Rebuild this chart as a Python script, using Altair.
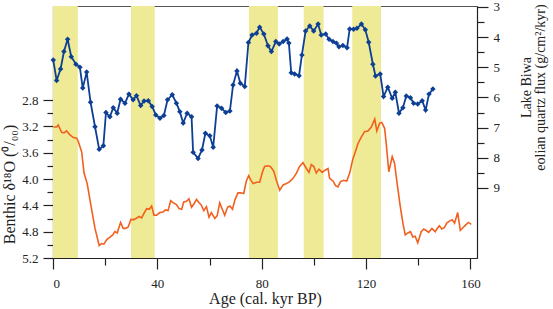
import altair as alt
import pandas as pd

# --- data -----------------------------------------------------------------
band_start = [0.0, 29.9, 75.1, 96.1, 114.7]
band_end = [9.5, 39.0, 86.2, 103.7, 125.7]

benthic_age = [0.1, 1.4, 2.0, 3.3, 4.2, 5.2, 6.5, 7.8, 9.1, 9.7, 11.0, 11.9, 13.1, 14.4,
               16.1, 17.7, 18.6, 19.5, 20.6, 21.6, 22.9, 23.7, 24.6, 25.9, 26.9, 27.9,
               28.8, 29.9, 30.7, 31.8, 33.0, 34.0, 34.9, 35.9, 36.9, 37.8, 38.7, 39.7,
               41.0, 42.2, 43.1, 44.1, 45.1, 46.0, 47.3, 48.3, 49.3, 50.1, 51.2, 52.1,
               53.1, 54.0, 55.0, 56.0, 56.9, 57.8, 58.8, 59.8, 60.7, 62.0, 62.9, 63.9,
               65.0, 65.8, 66.9, 67.8, 68.8, 69.7, 70.9, 71.8, 73.1, 74.1, 75.0, 75.7,
               76.7, 78.0, 79.2, 80.3, 81.1, 82.2, 83.3, 84.6, 85.6, 86.9, 88.2, 89.5,
               90.7, 92.0, 93.3, 94.5, 95.8, 97.1, 98.1, 99.0, 100.0, 100.9, 101.9, 103.2,
               104.1, 105.4, 106.0, 107.3, 108.3, 109.2, 110.2, 111.4, 112.6, 113.7, 114.9,
               116.0, 116.9, 118.2, 119.4, 120.7, 122.0, 123.3, 124.1, 125.2, 126.0, 127.1,
               127.7, 128.7, 130.0, 130.9, 131.9, 133.1, 134.1, 135.0, 136.0, 137.0, 137.9,
               138.8, 139.8, 141.1, 142.1, 143.3, 144.0, 145.2, 146.5, 147.1, 148.1, 149.0,
               150.0, 150.9, 151.9, 153.0, 153.9, 155.1, 156.1, 157.1, 158.1, 159.2, 160.3]
benthic_d18o = [3.21, 3.21, 3.18, 3.29, 3.30, 3.27, 3.33, 3.37, 3.38, 3.43, 3.59, 3.91, 4.07, 4.37,
                4.75, 5.01, 4.98, 4.99, 4.92, 4.89, 4.85, 4.80, 4.82, 4.66, 4.75, 4.75,
                4.73, 4.61, 4.62, 4.60, 4.57, 4.59, 4.52, 4.45, 4.46, 4.41, 4.55, 4.55,
                4.51, 4.50, 4.47, 4.48, 4.33, 4.36, 4.39, 4.45, 4.46, 4.35, 4.34, 4.30,
                4.43, 4.38, 4.31, 4.36, 4.40, 4.48, 4.42, 4.58, 4.51, 4.60, 4.56, 4.36,
                4.47, 4.55, 4.43, 4.41, 4.46, 4.32, 4.21, 4.21, 4.22, 4.03, 3.95, 4.01,
                4.07, 4.05, 4.05, 3.89, 3.81, 3.80, 3.81, 3.88, 4.02, 4.17, 4.09, 4.07,
                4.04, 3.99, 3.91, 3.81, 3.75, 3.84, 3.90, 3.78, 3.81, 3.91, 3.85, 3.90,
                3.87, 3.84, 3.99, 4.03, 4.10, 4.12, 4.04, 4.02, 4.03, 3.91, 3.70,
                3.57, 3.46, 3.36, 3.28, 3.27, 3.21, 3.09, 3.27, 3.15, 3.14, 3.23,
                3.46, 3.89, 3.66, 3.76, 4.07, 4.42, 4.67, 4.85, 4.82, 4.80, 4.88,
                4.87, 4.97, 4.80, 4.76, 4.79, 4.81, 4.75, 4.80, 4.76, 4.71, 4.76,
                4.74, 4.67, 4.64, 4.62, 4.67, 4.51, 4.78, 4.74, 4.70, 4.66, 4.69]

biwa_age = [0.1, 1.4, 2.9, 4.2, 5.6, 7.0, 8.8, 10.3, 11.4, 12.9, 14.4, 16.1, 17.7, 19.3,
            20.3, 21.8, 23.1, 24.6, 25.9, 27.6, 29.1, 30.7, 32.0, 33.6, 34.9, 36.5,
            38.0, 39.4, 41.0, 42.5, 43.9, 45.7, 47.3, 48.6, 49.9, 51.4, 53.1, 53.7,
            55.6, 57.1, 58.4, 60.1, 61.4, 62.9, 64.6, 66.2, 67.8, 69.0, 70.5, 71.8,
            73.5, 74.9, 76.3, 78.0, 79.2, 80.8, 82.4, 83.7, 85.4, 86.7, 88.2, 89.7,
            90.4, 91.3, 92.6, 94.3, 95.4, 96.8, 98.4, 99.9, 101.6, 102.8, 104.5, 105.8,
            107.3, 108.6, 109.6, 111.1, 112.7, 113.7, 115.2, 116.5, 118.2, 119.7, 121.0,
            122.6, 123.6, 125.4, 126.7, 128.3, 130.0, 131.2, 132.6, 134.1, 135.4, 137.0,
            138.2, 139.8, 141.5, 142.8, 144.1, 145.6]
biwa_flux = [4.76, 5.44, 5.06, 4.48, 4.07, 4.65, 4.90, 5.00, 5.69, 5.16, 6.16, 6.97, 7.72, 7.60,
             6.50, 6.64, 6.34, 6.52, 6.06, 6.19, 5.89, 6.08, 5.94, 6.27, 6.12, 6.11,
             6.30, 6.58, 6.69, 6.60, 6.08, 5.91, 6.19, 6.47, 6.85, 6.52, 6.64, 7.82,
             8.02, 7.74, 7.19, 7.27, 7.65, 6.28, 6.36, 6.50, 6.45, 5.59, 5.12, 5.53,
             5.64, 4.18, 3.93, 3.87, 3.67, 3.90, 4.29, 4.48, 4.15, 4.23, 4.15, 4.06,
             4.20, 5.18, 5.22, 5.28, 4.59, 3.80, 3.63, 3.80, 3.57, 3.93, 3.90, 4.07,
             4.15, 4.20, 4.32, 4.28, 4.35, 3.73, 3.74, 3.71, 3.57, 3.76, 4.17,
             4.90, 5.29, 5.22, 5.97, 5.66, 6.03, 5.83, 6.52, 6.34, 5.95, 6.01,
             6.19, 6.22, 6.11, 6.42, 5.89, 5.72]

x_ticks = [0, 20, 40, 60, 80, 100, 120, 140, 160]
left_ticks = [2.8, 3.0, 3.2, 3.4, 3.6, 3.8, 4.0, 4.2, 4.4, 4.6, 4.8, 5.0, 5.2]
right_ticks = [3, 3.5, 4, 4.5, 5, 5.5, 6, 6.5, 7, 7.5, 8, 8.5, 9]

# --- styling ----------------------------------------------------------------
YELLOW = "#EEEA96"
ORANGE = "#F2601F"
BLUE = "#0D3F94"
FONT = "Liberation Serif"
AXC = "#222222"

bands_df = pd.DataFrame({"start": band_start, "end": band_end})
benthic_df = pd.DataFrame({"age": benthic_age, "d18o": benthic_d18o})
biwa_df = pd.DataFrame({"age": biwa_age, "flux": biwa_flux})

x_scale = alt.Scale(domain=[0, 162.5], nice=False, zero=False)
x_axis = alt.Axis(
    values=x_ticks,
    labelExpr="datum.value % 40 == 0 ? datum.label : ''",
    tickSize={"condition": {"test": "datum.value % 40 != 0", "value": 7}, "value": 11},
    title="Age (cal. kyr BP)",
    titleFontSize=16,
    titlePadding=0,
    labelPadding=8,
    grid=False,
)

def xenc(field):
    return alt.X(f"{field}:Q", scale=x_scale, axis=x_axis)

bands = alt.Chart(bands_df).mark_rect(color=YELLOW, opacity=1).encode(
    x=xenc("start"), x2="end:Q"
)

orange = alt.Chart(benthic_df).mark_line(color=ORANGE, strokeWidth=1.6).encode(
    x=xenc("age"),
    y=alt.Y(
        "d18o:Q",
        scale=alt.Scale(domain=[1.372, 5.2], reverse=True, nice=False, zero=False),
        axis=alt.Axis(
            orient="left",
            values=left_ticks,
            labelExpr="round(datum.value*10) % 4 == 0 ? format(datum.value, '.1f') : ''",
            tickSize={"condition": {"test": "round(datum.value*10) % 4 != 0", "value": 6}, "value": 10},
            labelPadding=5,
            grid=False,
            title="Benthic δ¹⁸O (⁰/₀₀)",
            titleFontSize=16,
            titleAngle=270,
            titleAlign="center",
            titleBaseline="middle",
            titleX=-44,
            titleY=178,
        ),
    ),
)

blue = alt.Chart(biwa_df).mark_line(
    color=BLUE,
    strokeWidth=1.8,
    point=alt.OverlayMarkDef(shape="diamond", filled=True, size=30, color=BLUE),
).encode(
    x=xenc("age"),
    y=alt.Y(
        "flux:Q",
        scale=alt.Scale(domain=[2.97, 11.32], reverse=True, nice=False, zero=False),
        axis=alt.Axis(
            orient="right",
            values=right_ticks,
            labelExpr="datum.value % 1 == 0 ? format(datum.value, 'd') : ''",
            tickSize={"condition": {"test": "datum.value % 1 != 0", "value": 7}, "value": 11},
            labelPadding=5,
            grid=False,
            title=["Lake Biwa", "eolian quartz flux (g/cm²/kyr)"],
            titleFontSize=14,
            titleLineHeight=14,
            titleAngle=270,
            titleAlign="center",
            titleBaseline="middle",
            titleX=49,
            titleY=81,
        ),
    ),
)

chart = (
    alt.layer(bands, orange, blue)
    .resolve_scale(y="independent")
    .properties(
        width=424,
        height=252,
        autosize="none",
        padding={"left": 53, "top": 6, "right": 76, "bottom": 51},
        background="white",
    )
    .configure_view(stroke="#555555", strokeWidth=1)
    .configure_axis(
        labelFont=FONT,
        titleFont=FONT,
        labelFontSize=13,
        labelColor=AXC,
        titleColor=AXC,
        titleFontWeight="normal",
        domainColor=AXC,
        tickColor=AXC,
        domainWidth=1.2,
        tickWidth=1.2,
    )
)

chart.save("out.html", embed_options={"renderer": "svg", "actions": False})
